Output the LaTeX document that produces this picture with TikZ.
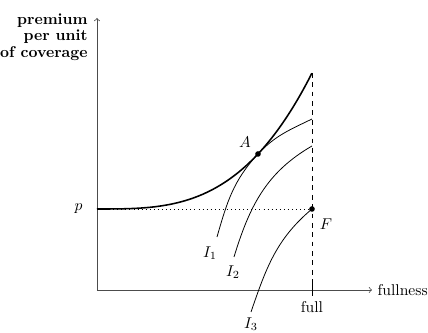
\documentclass[tikz,border=0pt]{standalone}
\begin{document}
\begin{tikzpicture}[x=0.64pt,y=0.64pt,font=\normalsize,
  axisline/.style={->,black!70,line width=0.5pt},
  indiff/.style={black,line width=0.5pt},
  bigdot/.style={circle,fill=black,inner sep=0pt,minimum size=3.6pt}]
  \useasboundingbox (0,0) rectangle (428,333);
  % axes
  \coordinate (O) at (97,43);
  \coordinate (ytop) at (97,315);
  \coordinate (xend) at (372,43);
  \draw[axisline] (O) -- (ytop);
  \draw[axisline] (O) -- (xend) node[right,black] (xlab) {fullness};
  \node[anchor=east,align=right,font=\bfseries,inner sep=0pt] (ylab) at (88,296)
    {premium\\[-1.5pt] per unit\\[-1.5pt] of coverage};
  % full coverage
  \coordinate (fulltop) at (312,260);
  \coordinate (fullbot) at (312,43);
  \draw[dashed,line width=0.5pt] (fulltop) -- (fullbot);
  \draw[line width=0.5pt] (312,37) -- (312,49);
  \node[below] (fulllab) at (312,37) {full};
  % price line
  \coordinate (P) at (97,124);
  \node[bigdot] (F) at (312,124) {};
  \draw[dotted,line width=0.6pt] (P) -- (F);
  \node[anchor=east] (plab) at (88,124) {$p$};
  \node (Flab) at (326,109) {$F$};
  % premium curve
  \draw[line width=1pt,domain=0:1,samples=60]
    plot ({97+215*\x},{124+136*pow(\x,3.13)});
  \node[bigdot] (A) at (258,179) {};
  \node (Alab) at (245,191) {$A$};
  % indifference curves
  \coordinate (I1bot) at (217,96);
  \coordinate (I1top) at (312,214);
  \coordinate (I2bot) at (234,76);
  \coordinate (I2top) at (312,187);
  \coordinate (I3bot) at (251,21);
  \draw[indiff] (I1bot) to[out=74,in=227] (A.center) to[out=47,in=206] (I1top);
  \draw[indiff] (I2bot) to[out=73,in=210] (I2top);
  \draw[indiff] (I3bot) to[out=71,in=220] (F.center);
  \node (I1lab) at (210,80) {$I_1$};
  \node (I2lab) at (233,61) {$I_2$};
  \node (I3lab) at (251,9) {$I_3$};
\end{tikzpicture}
\end{document}
